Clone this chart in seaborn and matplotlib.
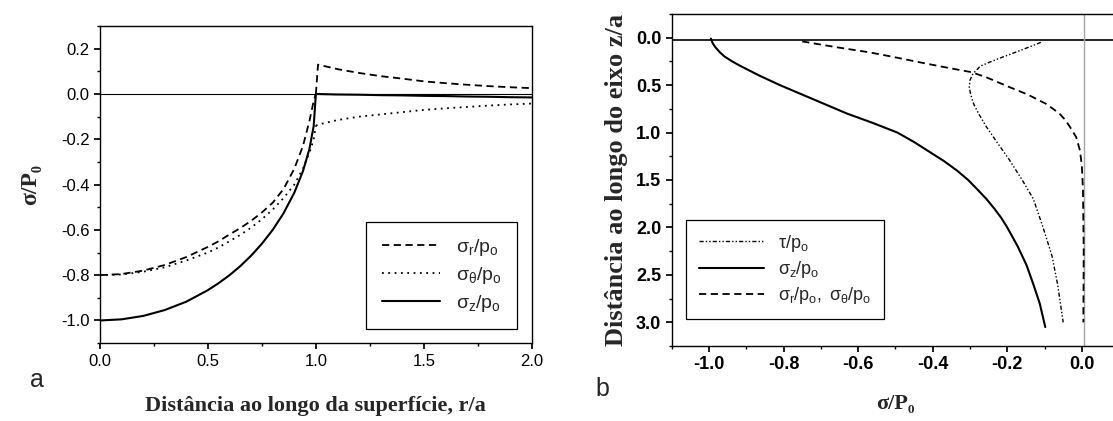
import matplotlib
matplotlib.use("Agg")
import matplotlib.pyplot as plt
from matplotlib.ticker import MultipleLocator
import seaborn as sns
import pandas as pd

# panel a: surface stresses vs r/a
r_in = [0.0, 0.1, 0.2, 0.3, 0.4, 0.5, 0.55, 0.6, 0.65, 0.7, 0.75, 0.8, 0.85, 0.9,
        0.94, 0.97, 0.99, 1.0]
sz_in = [-1.0, -0.995, -0.98, -0.954, -0.917, -0.866, -0.835, -0.80, -0.76, -0.714,
         -0.661, -0.60, -0.527, -0.436, -0.341, -0.243, -0.141, 0.0]
sr_in = [-0.80, -0.795, -0.78, -0.755, -0.72, -0.675, -0.65, -0.62, -0.592, -0.56,
         -0.523, -0.48, -0.42, -0.33, -0.23, -0.12, -0.03, 0.0]
st_in = [-0.80, -0.797, -0.785, -0.765, -0.735, -0.70, -0.677, -0.65, -0.622, -0.59,
         -0.553, -0.51, -0.46, -0.40, -0.33, -0.26, -0.20, -0.14]

r_out = [1.0, 1.01, 1.1, 1.2, 1.3, 1.4, 1.5, 1.6, 1.7, 1.8, 1.9, 2.0]
sz_out = [0.0, 0.0, -0.002, -0.003, -0.005, -0.006, -0.008, -0.009, -0.011, -0.012, -0.014, -0.015]
sr_out = [0.0, 0.13, 0.11, 0.093, 0.079, 0.068, 0.056, 0.048, 0.041, 0.035, 0.030, 0.026]
st_out = [-0.14, -0.135, -0.115, -0.10, -0.09, -0.08, -0.07, -0.063, -0.057, -0.051, -0.046, -0.042]

# panel b: stresses along the z axis
z_sz = [0.01, 0.03, 0.06, 0.1, 0.15, 0.2, 0.25, 0.3, 0.35, 0.4, 0.5, 0.6, 0.7, 0.8,
        0.9, 1.0, 1.1, 1.2, 1.3, 1.4, 1.5, 1.6, 1.7, 1.8, 1.9, 2.0, 2.2, 2.4, 2.6,
        2.8, 3.05]
sz_b = [-0.995, -0.993, -0.99, -0.983, -0.972, -0.958, -0.938, -0.915, -0.89, -0.865,
        -0.81, -0.75, -0.69, -0.63, -0.56, -0.495, -0.45, -0.41, -0.37, -0.335, -0.305,
        -0.28, -0.256, -0.235, -0.216, -0.20, -0.172, -0.148, -0.13, -0.113, -0.098]
z_sr = [0.04, 0.1, 0.155, 0.2, 0.26, 0.31, 0.365, 0.42, 0.47, 0.52, 0.6, 0.7, 0.8,
        0.87, 0.94, 1.05, 1.19, 1.35, 1.6, 2.0, 2.5, 3.0]
sr_b = [-0.75, -0.66, -0.57, -0.51, -0.435, -0.37, -0.295, -0.255, -0.225, -0.195,
        -0.145, -0.095, -0.06, -0.044, -0.032, -0.015, -0.005, 0.0, 0.003, 0.005,
        0.005, 0.004]
z_tau = [0.05, 0.1, 0.15, 0.2, 0.25, 0.3, 0.38, 0.45, 0.52, 0.6, 0.7, 0.8, 0.94,
         1.1, 1.29, 1.5, 1.7, 2.0, 2.3, 2.6, 3.0]
tau_b = [-0.11, -0.142, -0.175, -0.209, -0.242, -0.272, -0.292, -0.30, -0.302, -0.298,
         -0.29, -0.277, -0.256, -0.228, -0.194, -0.16, -0.13, -0.104, -0.08, -0.065, -0.05]

sns.set_theme(style="ticks")
plt.rcParams["font.family"] = ["Liberation Sans", "DejaVu Sans"]
plt.rcParams["axes.unicode_minus"] = False
plt.rcParams["mathtext.fontset"] = "custom"
plt.rcParams["mathtext.rm"] = "Liberation Sans"
plt.rcParams["mathtext.it"] = "Liberation Sans"
plt.rcParams["mathtext.bf"] = "Liberation Sans:bold"
plt.rcParams["axes.edgecolor"] = "black"
plt.rcParams["axes.linewidth"] = 1.0
plt.rcParams["xtick.color"] = "black"
plt.rcParams["ytick.color"] = "black"

serif = ["Liberation Serif", "DejaVu Serif"]

fig = plt.figure(figsize=(11.13, 4.21), dpi=100)
ax1 = fig.add_axes([0.0898, 0.185, 0.388, 0.753])
ax2 = fig.add_axes([0.6035, 0.178, 0.402, 0.789])

# ---- panel a
df_in = pd.DataFrame({"r": r_in, "sr": sr_in, "st": st_in, "sz": sz_in})
df_out = pd.DataFrame({"r": r_out, "sr": sr_out, "st": st_out, "sz": sz_out})
ax1.axhline(0.0, color="black", lw=0.8)
for df, lab in [(df_in, True), (df_out, False)]:
    sns.lineplot(data=df, x="r", y="sr", ax=ax1, color="black", lw=1.3,
                 linestyle=(0, (4, 2.5)), label=r"$\sigma_r/p_o$" if lab else None)
    sns.lineplot(data=df, x="r", y="st", ax=ax1, color="black", lw=1.3,
                 linestyle=(0, (1, 2.5)), label=r"$\sigma_\theta/p_o$" if lab else None)
    sns.lineplot(data=df, x="r", y="sz", ax=ax1, color="black", lw=1.5,
                 linestyle="-", label=r"$\sigma_z/p_o$" if lab else None)

ax1.set_xlim(0, 2.0)
ax1.set_ylim(-1.1, 0.3)
ax1.xaxis.set_major_locator(MultipleLocator(0.5))
ax1.xaxis.set_minor_locator(MultipleLocator(0.25))
ax1.yaxis.set_major_locator(MultipleLocator(0.2))
ax1.yaxis.set_minor_locator(MultipleLocator(0.1))
ax1.tick_params(which="both", direction="out", labelsize=12, top=False, right=False)
ax1.tick_params(which="major", length=4)
ax1.tick_params(which="minor", length=2)
ax1.set_xlabel("Distância ao longo da superfície, r/a", family=serif,
               fontweight="bold", fontsize=16, labelpad=20)
ax1.set_ylabel("σ/P₀", family=serif, fontweight="bold", fontsize=17, labelpad=14)
leg1 = ax1.legend(loc="lower right", bbox_to_anchor=(0.988, 0.013), fontsize=14,
                  handlelength=3.0, labelspacing=0.35, frameon=True, fancybox=False,
                  edgecolor="black", framealpha=1, borderpad=0.8)
leg1.get_frame().set_linewidth(0.9)
fig.text(0.027, 0.08, "a", fontsize=18)

# ---- panel b
df_sz = pd.DataFrame({"z": z_sz, "s": sz_b})
df_sr = pd.DataFrame({"z": z_sr, "s": sr_b})
df_tau = pd.DataFrame({"z": z_tau, "s": tau_b})
ax2.axhline(0.03, color="black", lw=1.2)
ax2.axvline(0.005, color="0.65", lw=1.0)
sns.lineplot(data=df_tau, x="s", y="z", sort=False, ax=ax2, color="black", lw=1.0,
             linestyle=(0, (3, 1.5, 1, 1.5, 1, 1.5)), label=r"$\tau/p_o$")
sns.lineplot(data=df_sz, x="s", y="z", sort=False, ax=ax2, color="black", lw=1.5,
             linestyle="-", label=r"$\sigma_z/p_o$")
sns.lineplot(data=df_sr, x="s", y="z", sort=False, ax=ax2, color="black", lw=1.3,
             linestyle=(0, (4, 2.5)), label=r"$\sigma_r/p_o,\ \sigma_\theta/p_o$")

ax2.set_xlim(-1.1, 0.1)
ax2.set_ylim(3.25, -0.25)
ax2.xaxis.set_major_locator(MultipleLocator(0.2))
ax2.xaxis.set_minor_locator(MultipleLocator(0.1))
ax2.yaxis.set_major_locator(MultipleLocator(0.5))
ax2.yaxis.set_minor_locator(MultipleLocator(0.25))
ax2.tick_params(which="both", direction="out", labelsize=13, top=False, right=False)
ax2.tick_params(which="major", length=4)
ax2.tick_params(which="minor", length=2)
for t in ax2.get_xticklabels() + ax2.get_yticklabels():
    t.set_fontweight("bold")
ax2.set_xlabel("σ/P₀", family=serif, fontweight="bold", fontsize=16, labelpad=15)
ax2.set_ylabel("Distância ao longo do eixo z/a", family=serif, fontweight="bold",
               fontsize=19, labelpad=6)
leg2 = ax2.legend(loc="lower left", bbox_to_anchor=(0.012, 0.054), fontsize=13,
                  handlelength=3.6, labelspacing=0.3, frameon=True, fancybox=False,
                  edgecolor="black", framealpha=1, borderpad=0.7)
leg2.get_frame().set_linewidth(0.9)
fig.text(0.535, 0.06, "b", fontsize=18)

fig.savefig("out.png", dpi=100)
